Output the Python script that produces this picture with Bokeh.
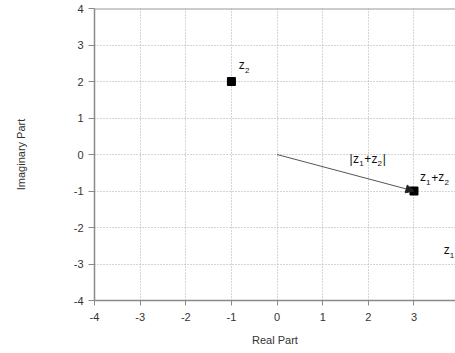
from bokeh.plotting import figure
from bokeh.models import ColumnDataSource, Arrow, NormalHead, Span, FixedTicker, PrintfTickFormatter
from bokeh.embed import file_html
from bokeh.resources import INLINE
from bokeh.core.properties import value

# ---- data ----
point_names = ["z1", "z2", "z1+z2"]
point_re = [4, -1, 3]
point_im = [-3, 2, -1]

# labels: "_" marks the next character as a subscript
label_texts = ["z_1", "z_2", "|z_1+z_2|", "z_1+z_2"]
label_x = [3.65, -0.84, 1.59, 3.13]
label_y = [-2.63, 2.44, -0.11, -0.63]

x_ticks = [-4, -3, -2, -1, 0, 1, 2, 3, 4]
y_ticks = [-4, -3, -2, -1, 0, 1, 2, 3, 4]
x_lim = (-4, 3.91)
y_lim = (-4, 4)

FONT = "Liberation Sans"
MAIN_SIZE = 12
SUB_SIZE = 8
SUB_DROP = 5
CHAR_W = {"z": 0.5, "|": 0.26, "+": 0.584, "1": 0.556, "2": 0.556}

# build per-character text pieces (for subscripts)
cx, cy, ct, cdx, cdy, csz = [], [], [], [], [], []
for txt, lx, ly in zip(label_texts, label_x, label_y):
    dx = 0.0
    i = 0
    while i < len(txt):
        if txt[i] == "_":
            ch, sub = txt[i + 1], True
            i += 2
        else:
            ch, sub = txt[i], False
            i += 1
        size = SUB_SIZE if sub else MAIN_SIZE
        cx.append(lx)
        cy.append(ly)
        ct.append(ch)
        cdx.append(dx)
        cdy.append(SUB_DROP if sub else 0)
        csz.append(f"{size}px")
        dx += CHAR_W.get(ch, 0.55) * size + (0.6 if sub else 0.2)

p = figure(width=455, height=353, x_range=x_lim, y_range=y_lim,
           output_backend="svg", toolbar_location=None,
           min_border_left=94, min_border_right=0, min_border_top=8,
           min_border_bottom=53,
           x_axis_label="Real Part", y_axis_label="Imaginary Part")

p.outline_line_color = None
p.background_fill_color = "white"
p.border_fill_color = "white"

p.xaxis.ticker = FixedTicker(ticks=x_ticks)
p.yaxis.ticker = FixedTicker(ticks=y_ticks)
p.xgrid.ticker = FixedTicker(ticks=x_ticks)
p.ygrid.ticker = FixedTicker(ticks=y_ticks)
p.xaxis.formatter = PrintfTickFormatter(format="%d")
p.yaxis.formatter = PrintfTickFormatter(format="%d")

p.grid.grid_line_color = "#aaaaaa"
p.grid.grid_line_dash = "1 2"
p.grid.grid_line_width = 1

for ax in (p.xaxis, p.yaxis):
    ax.axis_line_color = "#8a8a8a"
    ax.axis_line_width = 1.5
    ax.major_tick_line_color = "#8a8a8a"
    ax.major_tick_in = 0
    ax.minor_tick_line_color = None
    ax.major_label_text_font = FONT
    ax.major_label_text_font_size = "11px"
    ax.major_label_text_color = "#333333"
    ax.axis_label_text_font = FONT
    ax.axis_label_text_font_size = "11px"
    ax.axis_label_text_font_style = "normal"
    ax.axis_label_text_color = "#333333"

p.yaxis.major_tick_out = 6
p.yaxis.major_label_standoff = 5
p.yaxis.axis_label_standoff = 44
p.xaxis.major_tick_out = 5
p.xaxis.major_label_standoff = 7
p.xaxis.axis_label_standoff = 10

# top frame border
p.add_layout(Span(location=y_lim[1], dimension="width",
                  line_color="#999999", line_width=2))

# arrow from origin to z1+z2
p.add_layout(Arrow(end=NormalHead(size=8, fill_color="#222222",
                                  line_color="#222222", line_width=1),
                   x_start=0, y_start=0,
                   x_end=point_re[2], y_end=point_im[2],
                   line_color="#555555", line_width=1))

p.scatter(point_re, point_im, marker="square", size=8,
          fill_color="black", line_color="black")

src = ColumnDataSource(dict(x=cx, y=cy, text=ct, dx=cdx, dy=cdy, size=csz))
p.text(x="x", y="y", text="text", x_offset="dx", y_offset="dy",
       text_font_size="size", text_font=value(FONT),
       text_baseline="alphabetic", text_align="left",
       text_color="#111111", source=src)

open("out.html", "w").write(file_html(p, INLINE))
